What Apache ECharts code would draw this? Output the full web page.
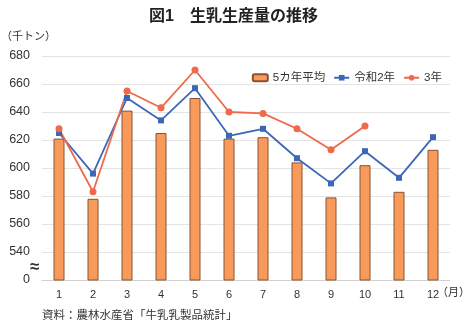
<!DOCTYPE html>
<html>
<head>
<meta charset="utf-8">
<script src="https://cdn.jsdelivr.net/npm/echarts@6/dist/echarts.min.js"></script>
<style>
  html, body { margin: 0; padding: 0; background: #fff; }
  #chart { width: 467px; height: 325px; }
</style>
</head>
<body>
<div id="chart"></div>
<script>
// Monthly raw milk production (thousand tonnes)
const months = ['1', '2', '3', '4', '5', '6', '7', '8', '9', '10', '11', '12'];
const avg5y = [621, 578, 641, 625, 650, 621, 622, 604, 579, 602, 583, 613];
const reiwa2 = [625, 596, 650, 634, 657, 623, 628, 607, 589, 612, 593, 622];
const reiwa3 = [628, 583, 655, 643, 670, 640, 639, 628, 613, 630];
const yTicks = [520, 540, 560, 580, 600, 620, 640, 660, 680];

const FONT = '"Liberation Sans", "Noto Sans CJK JP", sans-serif';
const chart = echarts.init(document.getElementById('chart'), null, { renderer: 'canvas' });

chart.setOption({
  animation: false,
  textStyle: { fontFamily: FONT },
  title: {
    text: '図1　生乳生産量の推移',
    left: 'center',
    top: 4,
    textStyle: { fontSize: 16, fontWeight: 'bold', color: '#222', fontFamily: FONT }
  },
  legend: {
    top: 67,
    right: 20,
    itemGap: 8,
    itemWidth: 15,
    itemHeight: 7,
    textStyle: { fontSize: 11.5, color: '#333', fontFamily: FONT },
    data: ['5カ年平均', '令和2年', '3年']
  },
  grid: { left: 42, right: 17, top: 56, bottom: 45 },
  xAxis: {
    type: 'category',
    data: months,
    axisLine: { lineStyle: { color: '#d0d0d0' } },
    axisTick: { show: false },
    axisLabel: { color: '#333', fontSize: 11, margin: 9 }
  },
  yAxis: {
    type: 'value',
    min: yTicks[0],
    max: yTicks[yTicks.length - 1],
    interval: 20,
    axisLine: { show: false },
    axisTick: { show: false },
    splitLine: { lineStyle: { color: '#e4e4e4' } },
    axisLabel: {
      color: '#333',
      fontSize: 12.5,
      margin: 12,
      formatter: v => (v === yTicks[0] ? '0' : String(v))
    }
  },
  graphic: [
    { type: 'text', left: 1, top: 31, style: { text: '（千トン）', fontSize: 11, fill: '#333', fontFamily: FONT } },
    { type: 'text', left: 30, top: 259, style: { text: '≈', fontSize: 17, fontWeight: 'bold', fill: '#333', fontFamily: FONT } },
    { type: 'text', left: 437, top: 287, style: { text: '（月）', fontSize: 11, fill: '#333', fontFamily: FONT } },
    { type: 'text', left: 42, top: 310, style: { text: '資料：農林水産省「牛乳乳製品統計」', fontSize: 11.5, fill: '#333', fontFamily: FONT } }
  ],
  series: [
    {
      name: '5カ年平均',
      type: 'bar',
      data: avg5y,
      barWidth: 11,
      itemStyle: { color: '#F79A5A', borderColor: '#8A5232', borderWidth: 1 }
    },
    {
      name: '令和2年',
      type: 'line',
      data: reiwa2,
      symbol: 'rect',
      symbolSize: 6,
      lineStyle: { color: '#3C67B8', width: 1.8 },
      itemStyle: { color: '#3C67B8' }
    },
    {
      name: '3年',
      type: 'line',
      data: reiwa3,
      symbol: 'circle',
      symbolSize: 7,
      lineStyle: { color: '#EE6A4A', width: 1.8 },
      itemStyle: { color: '#EE6A4A' }
    }
  ]
});
</script>
</body>
</html>
